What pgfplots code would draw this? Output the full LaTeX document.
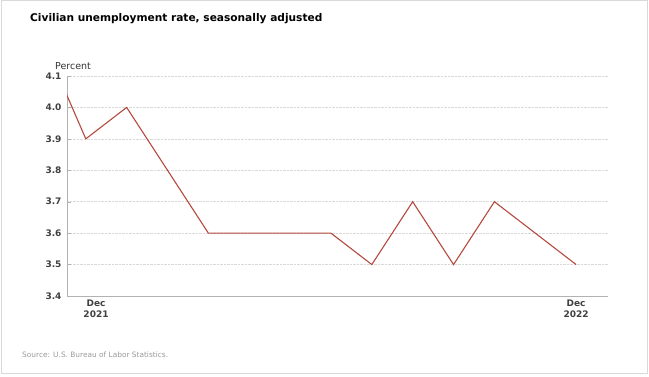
\documentclass[border=0pt]{standalone}
\usepackage{pgfplots}
\pgfplotsset{compat=1.18}
\usepackage{fontspec}
\setmainfont{DejaVu Sans}
\definecolor{linered}{HTML}{B5493F}
\begin{document}
\begin{tikzpicture}[x=1pt,y=1pt]
\path[use as bounding box] (0,0) rectangle (649,376);
\draw[black!15, line width=1pt] (1,3) rectangle (647,375);
\node[anchor=base west, inner sep=0pt, font=\bfseries\fontsize{10.6}{12}\selectfont] at (30,355) {Civilian unemployment rate, seasonally adjusted};
\node[anchor=base west, inner sep=0pt, font=\fontsize{9.5}{11}\selectfont, text=black!80] at (55,307) {Percent};
\node[anchor=base west, inner sep=0pt, font=\fontsize{7.4}{9}\selectfont, text=black!40] at (22,19) {Source: U.S. Bureau of Labor Statistics.};
\begin{axis}[
  at={(67pt,80pt)}, anchor=south west, scale only axis,
  width=541pt, height=220pt,
  xmin=-0.46, xmax=12.78, ymin=3.4, ymax=4.1,
  axis x line*=bottom, axis y line*=left,
  axis line style={black!30, line width=0.8pt, -},
  ytick={3.4,3.5,3.6,3.7,3.8,3.9,4.0,4.1},
  yticklabel style={/pgf/number format/fixed, /pgf/number format/fixed zerofill, /pgf/number format/precision=1, /pgf/number format/assume math mode=true, font=\bfseries\fontsize{9}{10}\selectfont, text=black!75, xshift=-2pt},
  ymajorgrids, grid style={densely dotted, black!15, line width=0.7pt},
  major tick length=4pt,
  ytick style={black!30},
  xtick={0.25,12}, xticklabels={{Dec\\2021},{Dec\\2022}},
  xticklabel style={align=center, font=\bfseries\fontsize{9}{11}\selectfont, text=black!75},
  x tick style={draw=none},
]
\addplot[linered, line width=1.1pt] coordinates {
 (-1,4.2) (0,3.9) (1,4.0) (2,3.8) (3,3.6) (4,3.6) (5,3.6) (6,3.6)
 (7,3.5) (8,3.7) (9,3.5) (10,3.7) (11,3.6) (12,3.5)
};
\end{axis}
\end{tikzpicture}
\end{document}
